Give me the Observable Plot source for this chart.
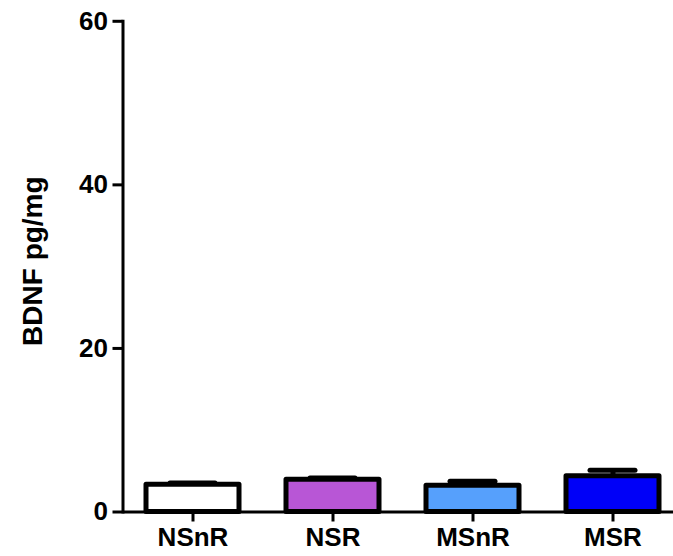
<!DOCTYPE html>
<html>
<head>
<meta charset="utf-8">
<script src="https://cdn.jsdelivr.net/npm/d3@7"></script>
<script src="https://cdn.jsdelivr.net/npm/@observablehq/plot@0.6"></script>
<style>
  html, body { margin: 0; padding: 0; background: #fff; }
  #chart { width: 673px; height: 556px; }
</style>
</head>
<body>
<div id="chart"></div>
<script>
// BDNF level per group: mean and SEM (pg/mg)
const groups = ["NSnR", "NSR", "MSnR", "MSR"];
const means = [3.34, 3.95, 3.22, 4.36];
const sems = [0.21, 0.21, 0.54, 0.74];
const fills = ["#ffffff", "#b856d6", "#56a0fc", "#0000f8"];
const yTicks = [0, 20, 40, 60];
const yLabel = "BDNF pg/mg";

const rows = groups.map((g, i) => ({group: g, mean: means[i], sem: sems[i], fill: fills[i]}));

const font = "'Liberation Sans', Arial, Helvetica, sans-serif";

const chart = Plot.plot({
  width: 673,
  height: 556,
  marginLeft: 122.5,
  marginRight: 0,
  marginTop: 20.8,
  marginBottom: 44.5,
  style: {fontFamily: font, background: "#fff", color: "#000"},
  x: {domain: groups, paddingInner: 0.335, paddingOuter: 0.127, align: 0.633, label: null},
  y: {domain: [0, 60], label: null},
  color: {type: "identity"},
  marks: [
    // upper error whisker and cap
    Plot.ruleX(rows, {x: "group", y1: "mean", y2: d => d.mean + d.sem, stroke: "#000", strokeWidth: 5}),
    Plot.tickY(rows, {x: "group", y: d => d.mean + d.sem, stroke: "#000", strokeWidth: 5,
      strokeLinecap: "round", insetLeft: 24, insetRight: 24}),
    // bars
    Plot.barY(rows, {x: "group", y: "mean", fill: "fill", stroke: "#000", strokeWidth: 5,
      strokeLinejoin: "round"}),
    // axes
    Plot.frame({anchor: "left", stroke: "#000", strokeWidth: 3}),
    Plot.ruleY([0], {stroke: "#000", strokeWidth: 3}),
    Plot.axisY({ticks: yTicks, tickSize: 10, tickPadding: 5, strokeWidth: 3, stroke: "#000",
      fontSize: 26, fontWeight: "bold", label: null}),
    Plot.axisX({tickSize: 10, tickPadding: 6, strokeWidth: 3, stroke: "#000",
      fontSize: 26, fontWeight: "bold", label: null}),
    Plot.text([yLabel], {frameAnchor: "left", text: d => d, rotate: -90, dx: -89.5, dy: -5.5,
      fontSize: 28, fontWeight: "bold", fill: "#000", textAnchor: "middle", lineAnchor: "middle"})
  ]
});

document.getElementById("chart").appendChild(chart);
</script>
</body>
</html>
